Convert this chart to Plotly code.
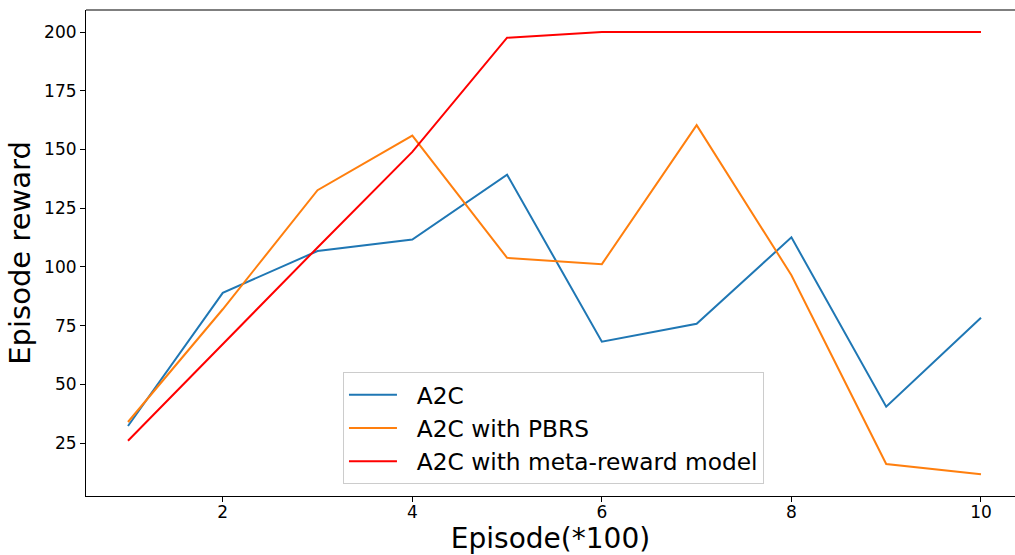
import plotly.graph_objects as go

# Evaluation checkpoints (hundreds of episodes)
episodes = [1, 2, 3, 4, 5, 6, 7, 8, 9, 10]

# Mean episode reward per method
a2c = [32.3, 89.0, 106.8, 111.7, 139.3, 68.2, 75.8, 112.6, 40.5, 78.4]
a2c_pbrs = [34.0, 82.0, 132.7, 155.9, 103.9, 101.2, 160.4, 96.5, 16.1, 11.8]
a2c_meta = [26.0, 67.3, 108.3, 149.0, 197.6, 200.0, 200.0, 200.0, 200.0, 200.0]

y_ticks = [25, 50, 75, 100, 125, 150, 175, 200]
x_ticks = [2, 4, 6, 8, 10]

series = [
    ("A2C", a2c, "#1f77b4"),
    ("A2C with PBRS", a2c_pbrs, "#ff7f0e"),
    ("A2C with meta-reward model", a2c_meta, "#ff0000"),
]

# small gap between the legend line sample and its label
pad = "\u00a0\u00a0"

fig = go.Figure()
for name, values, color in series:
    fig.add_trace(go.Scatter(
        x=episodes, y=values, name=pad + name, mode="lines",
        line=dict(color=color, width=2),
    ))

font_family = "DejaVu Sans"

fig.update_layout(
    width=1015, height=555,
    margin=dict(l=86, r=0, t=10, b=59),
    paper_bgcolor="white", plot_bgcolor="white",
    font=dict(family=font_family, color="black"),
    showlegend=True,
    legend=dict(
        x=0.2766, y=0.255, xanchor="left", yanchor="top",
        bgcolor="rgba(255,255,255,0.8)", bordercolor="#cccccc", borderwidth=1,
        font=dict(family=font_family, size=23.3, color="black"),
        itemwidth=48, tracegroupgap=0,
    ),
    xaxis=dict(
        range=[0.557, 10.359], tickvals=x_ticks, automargin=False,
        showgrid=False, zeroline=False,
        showline=True, linecolor="black", linewidth=1.1,
        ticks="outside", ticklen=5, tickwidth=1.1, tickcolor="black",
        ticklabelstandoff=-4,
        tickfont=dict(family=font_family, size=17, color="black"),
        title=dict(text="Episode(*100)", standoff=13,
                   font=dict(family=font_family, size=28, color="black")),
    ),
    yaxis=dict(
        range=[2.5, 209.4], tickvals=y_ticks, automargin=False,
        showgrid=False, zeroline=False,
        showline=True, linecolor="black", linewidth=1.1,
        ticks="outside", ticklen=5, tickwidth=1.1, tickcolor="black",
        tickfont=dict(family=font_family, size=17, color="black"),
        title=dict(text="Episode reward", standoff=4,
                   font=dict(family=font_family, size=29, color="black")),
    ),
)

# Top spine of the axes frame
fig.add_shape(type="line", xref="paper", yref="paper", x0=0, x1=1, y0=1, y1=1,
              line=dict(color="black", width=1.1))

fig.write_html("out.html")
